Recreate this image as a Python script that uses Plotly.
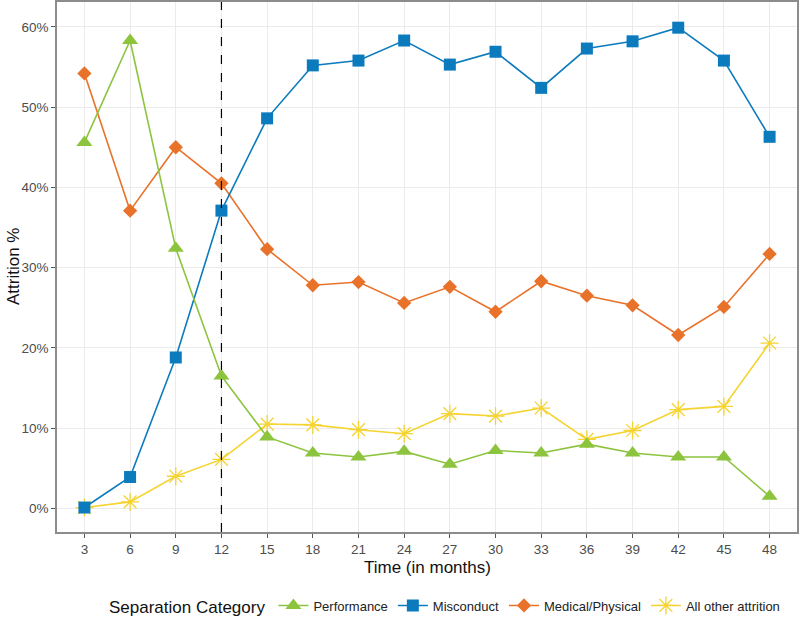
import plotly.graph_objects as go

months = [3, 6, 9, 12, 15, 18, 21, 24, 27, 30, 33, 36, 39, 42, 45, 48]
performance = [45.6, 58.3, 32.4, 16.5, 8.9, 6.9, 6.4, 7.1, 5.5, 7.2, 6.9, 8.0, 6.9, 6.4, 6.4, 1.5]
misconduct = [0.1, 3.9, 18.8, 37.1, 48.6, 55.2, 55.8, 58.3, 55.3, 56.9, 52.4, 57.3, 58.2, 59.9, 55.8, 46.3]
medical = [54.2, 37.1, 45.0, 40.5, 32.3, 27.8, 28.2, 25.6, 27.6, 24.5, 28.3, 26.5, 25.3, 21.6, 25.1, 31.7]
other = [0.1, 0.8, 4.0, 6.1, 10.5, 10.4, 9.8, 9.3, 11.8, 11.5, 12.5, 8.6, 9.7, 12.3, 12.7, 20.6]

y_ticks = [0, 10, 20, 30, 40, 50, 60]
y_labels = ["0%", "10%", "20%", "30%", "40%", "50%", "60%"]
cutoff = 12

# (name, values, color, symbol, size, line width, legend rank); drawn bottom to top
series = [
    ("All other attrition", other, "#F5D330", "asterisk-open", 15, 1.3, 4),
    ("Medical/Physical", medical, "#E9722A", "diamond", 11, 0, 3),
    ("Misconduct", misconduct, "#0C7BBE", "square", 12, 0, 2),
    ("Performance", performance, "#8CC43E", "triangle-up", 14, 0, 1),
]

fig = go.Figure()
for name, vals, color, sym, size, lw, rank in series:
    marker = dict(symbol=sym, size=size, color=color)
    if sym == "asterisk-open":
        marker["line"] = dict(color=color, width=lw)
    else:
        marker["line"] = dict(width=0)
    fig.add_trace(go.Scatter(
        x=months, y=vals, name=name, mode="lines+markers", legendrank=rank,
        line=dict(color=color, width=1.6), marker=marker,
    ))

fig.add_vline(x=cutoff, line=dict(color="black", width=1.2, dash="dash"))

fig.add_annotation(text="Time (in months)", xref="paper", yref="paper",
                   x=(427 - 57) / 740, y=(532 - 567) / 530, showarrow=False,
                   xanchor="center", yanchor="middle",
                   font=dict(size=17, color="#111111"))
fig.add_annotation(text="Attrition %", xref="paper", yref="paper",
                   x=(13 - 57) / 740, y=0.5, showarrow=False, textangle=-90,
                   xanchor="center", yanchor="middle",
                   font=dict(size=17, color="#111111"))

fig.update_layout(
    width=800, height=623,
    margin=dict(l=57, r=3, t=2, b=91, autoexpand=False),
    paper_bgcolor="white", plot_bgcolor="white",
    font=dict(family="Liberation Sans, Arial, sans-serif", color="#222222"),
    showlegend=True,
    legend=dict(
        orientation="h", x=(107 - 57) / 740, xanchor="left", y=(532 - 607) / 530, yanchor="middle",
        title=dict(text="Separation Category", font=dict(size=17, color="#111111")),
        font=dict(size=13, color="#222222"),
        itemwidth=30, tracegroupgap=0,
    ),
)
fig.update_xaxes(
    range=[1.2, 49.8], tickvals=months, ticktext=[str(m) for m in months],
    showgrid=True, gridcolor="#EBEBEB", gridwidth=1,
    ticks="outside", ticklen=4, tickcolor="#555555",
    tickfont=dict(size=13.5, color="#4D4D4D"), automargin=False,
    showline=True, linecolor="#8C8C8C", linewidth=1.5, mirror=True, zeroline=False,
)
fig.update_yaxes(
    range=[-2.95, 63.1], tickvals=y_ticks, ticktext=y_labels,
    showgrid=True, gridcolor="#EBEBEB", gridwidth=1,
    ticks="outside", ticklen=4, tickcolor="#555555",
    tickfont=dict(size=13.5, color="#4D4D4D"), automargin=False,
    showline=True, linecolor="#8C8C8C", linewidth=1.5, mirror=True, zeroline=False,
)

fig.write_html("out.html", config={"displayModeBar": False},
               post_script="document.body.style.margin='0px';")
